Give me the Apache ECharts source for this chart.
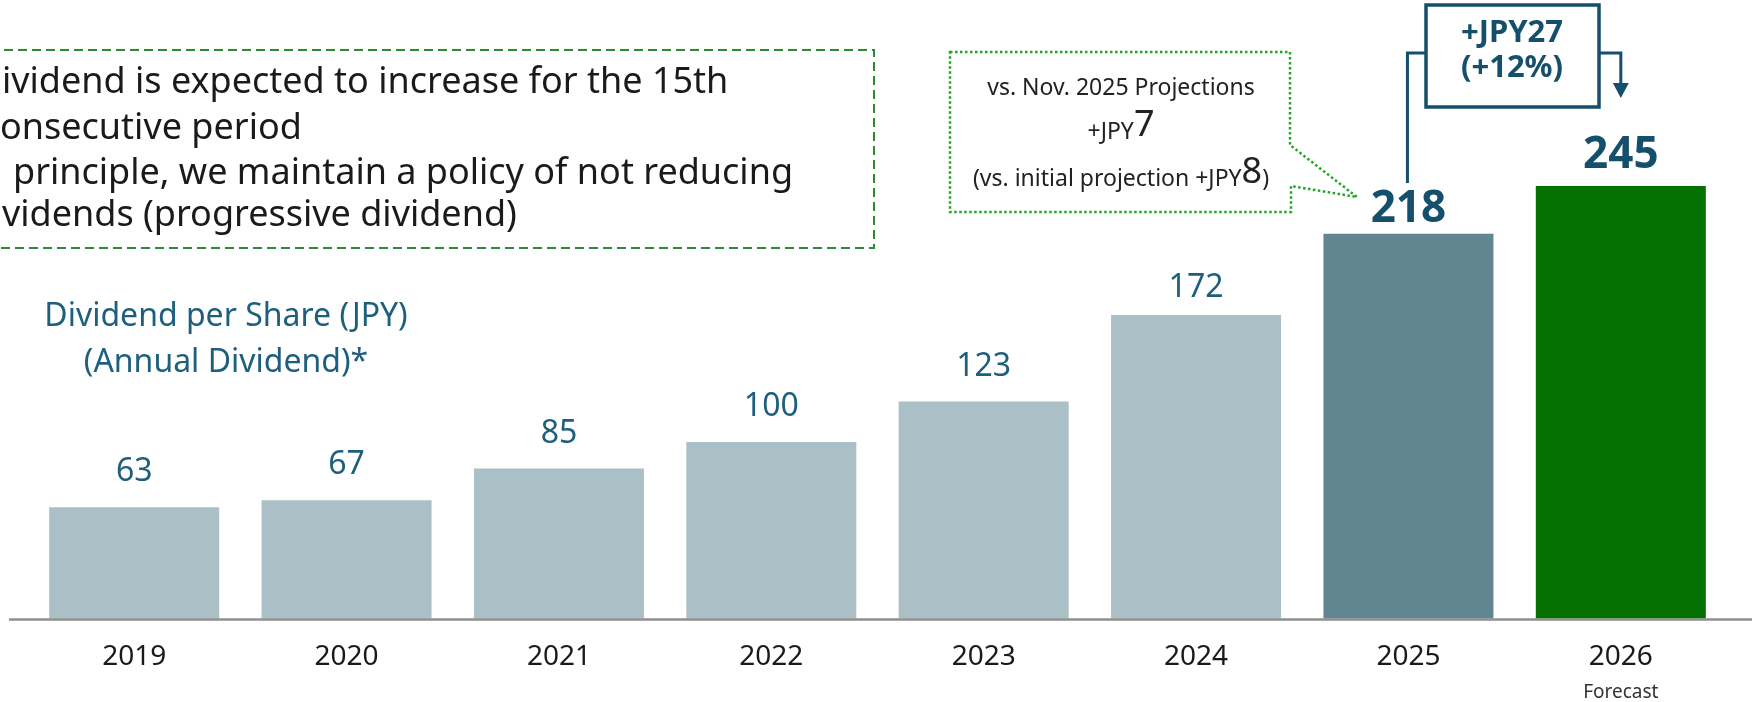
<!DOCTYPE html>
<html>
<head>
<meta charset="utf-8">
<script src="https://cdn.jsdelivr.net/npm/echarts@6/dist/echarts.min.js"></script>
<style>
html,body{margin:0;padding:0;background:#fff;}
#chart{width:1752px;height:702px;}
</style>
</head>
<body>
<div id="chart"></div>
<script>
// ---- data ----
const years = ['2019', '2020', '2021', '2022', '2023', '2024', '2025', '2026'];
const dividends = [63, 67, 85, 100, 123, 172, 218, 245];
const subLabels = ['', '', '', '', '', '', '', 'Forecast'];
const noteLines = [
  'ividend is expected to increase for the 15th',
  'onsecutive period',
  'principle, we maintain a policy of not reducing',
  'vidends (progressive dividend)'
];
const titleLines = ['Dividend per Share (JPY)', '(Annual Dividend)*'];
const calloutLine1 = 'vs. Nov. 2025 Projections';
const vsNov = 7;
const vsInitial = 8;
const changeAmount = 27;
const changePct = 12;

// ---- styles ----
const FONT = 'Noto Sans';
const LIGHT = '#abbfc6';
const MID = '#628691';
const GREEN = '#037203';
const TEAL = '#1d5f7d';
const DARKTEAL = '#144f6b';

const barColors = dividends.map((v, i) => i === 7 ? GREEN : (i === 6 ? MID : LIGHT));

const seriesData = dividends.map((v, i) => {
  const item = { value: v, itemStyle: { color: barColors[i] } };
  if (i >= 6) {
    item.label = { fontSize: 44, fontWeight: 'bold', color: DARKTEAL, distance: i === 6 ? 2 : 9 };
  } else if (i === 5) {
    item.label = { distance: 11 };
  }
  return item;
});

const chart = echarts.init(document.getElementById('chart'), null, { renderer: 'canvas' });

const option = {
  animation: false,
  backgroundColor: '#ffffff',
  grid: { left: 28, right: 25, top: 89, bottom: 83 },
  xAxis: {
    type: 'category',
    data: years,
    axisLine: { show: false },
    axisTick: { show: false },
    axisLabel: {
      margin: 24,
      formatter: function (val, idx) {
        const sub = subLabels[idx];
        return sub ? '{y|' + val + '}\n{f|' + sub + '}' : '{y|' + val + '}';
      },
      rich: {
        y: { fontFamily: FONT, fontSize: 28, color: '#1a1a1a', lineHeight: 30 },
        f: { fontFamily: FONT, fontSize: 19, color: '#333333', lineHeight: 40 }
      }
    }
  },
  yAxis: {
    type: 'value',
    min: 0,
    max: 300,
    show: false,
    splitLine: { show: false }
  },
  series: [{
    type: 'bar',
    data: seriesData,
    barWidth: 170,
    label: {
      show: true,
      position: 'top',
      distance: 19,
      fontFamily: FONT,
      fontSize: 32,
      color: TEAL
    }
  }]
};

chart.setOption(option);

// ---- annotations ----
const y0 = chart.convertToPixel({ yAxisIndex: 0 }, 0);
const x2025 = chart.convertToPixel({ xAxisIndex: 0 }, '2025');
const x2026 = chart.convertToPixel({ xAxisIndex: 0 }, '2026');

const noteY = [83, 129, 174, 216];
const noteX = [2, 0, 13, 2];

const graphics = [];

// baseline
graphics.push({
  type: 'line', z: 100,
  shape: { x1: 9, y1: y0 + 1, x2: 1752, y2: y0 + 1 },
  style: { stroke: '#8f8f8f', lineWidth: 2.5 }
});

// dashed note box
graphics.push({
  type: 'rect',
  shape: { x: -10, y: 50, width: 884, height: 198 },
  style: { fill: null, stroke: '#2e8b2e', lineWidth: 2, lineDash: [9, 5] }
});
noteLines.forEach((t, i) => {
  graphics.push({
    type: 'text', x: noteX[i], y: noteY[i],
    style: { text: t, fontFamily: FONT, fontSize: 36, fill: '#1a1a1a', textAlign: 'left', textVerticalAlign: 'middle' }
  });
});

// title
titleLines.forEach((t, i) => {
  graphics.push({
    type: 'text', x: 226, y: i === 0 ? 317 : 363,
    style: { text: t, fontFamily: FONT, fontSize: 32, fill: TEAL, textAlign: 'center', textVerticalAlign: 'middle' }
  });
});

// callout (green dotted speech box)
graphics.push({
  type: 'polygon',
  shape: { points: [[950, 52], [1290, 52], [1290, 145], [1357, 197], [1291, 186], [1291, 212], [950, 212]] },
  style: { fill: null, stroke: '#1fa81f', lineWidth: 2.5, lineDash: [2.5, 2.5] }
});
graphics.push({
  type: 'text', x: 1121, y: 88,
  style: { text: calloutLine1, fontFamily: FONT, fontSize: 23, fill: '#222222', textAlign: 'center', textVerticalAlign: 'middle' }
});
const calloutRich = {
  s: { fontFamily: FONT, fontSize: 23, fill: '#222222', verticalAlign: 'bottom' },
  b: { fontFamily: FONT, fontSize: 36, fill: '#222222', verticalAlign: 'bottom' }
};
graphics.push({
  type: 'text', x: 1121, y: 126,
  style: { text: '{s|+JPY}{b|' + vsNov + '}', textAlign: 'center', textVerticalAlign: 'middle', rich: calloutRich }
});
graphics.push({
  type: 'text', x: 1121, y: 173,
  style: { text: '{s|(vs. initial projection +JPY}{b|' + vsInitial + '}{s|)}', textAlign: 'center', textVerticalAlign: 'middle', rich: calloutRich }
});

// change box with connector
graphics.push({
  type: 'rect',
  shape: { x: 1426, y: 5, width: 173, height: 102 },
  style: { fill: '#ffffff', stroke: DARKTEAL, lineWidth: 3.5 }
});
graphics.push({
  type: 'text', x: 1512, y: 33,
  style: { text: '+JPY' + changeAmount, fontFamily: FONT, fontSize: 31, fontWeight: 'bold', fill: DARKTEAL, textAlign: 'center', textVerticalAlign: 'middle' }
});
graphics.push({
  type: 'text', x: 1512, y: 68,
  style: { text: '(+' + changePct + '%)', fontFamily: FONT, fontSize: 31, fontWeight: 'bold', fill: DARKTEAL, textAlign: 'center', textVerticalAlign: 'middle' }
});
graphics.push({
  type: 'polyline',
  shape: { points: [[1426, 53], [x2025 - 1, 53], [x2025 - 1, 183]] },
  style: { stroke: DARKTEAL, lineWidth: 3, fill: null }
});
graphics.push({
  type: 'polyline',
  shape: { points: [[1599, 53], [x2026, 53], [x2026, 85]] },
  style: { stroke: DARKTEAL, lineWidth: 3, fill: null }
});
graphics.push({
  type: 'polygon',
  shape: { points: [[x2026 - 8, 83], [x2026 + 8, 83], [x2026, 98]] },
  style: { fill: DARKTEAL }
});

chart.setOption({ graphic: graphics });
</script>
</body>
</html>
